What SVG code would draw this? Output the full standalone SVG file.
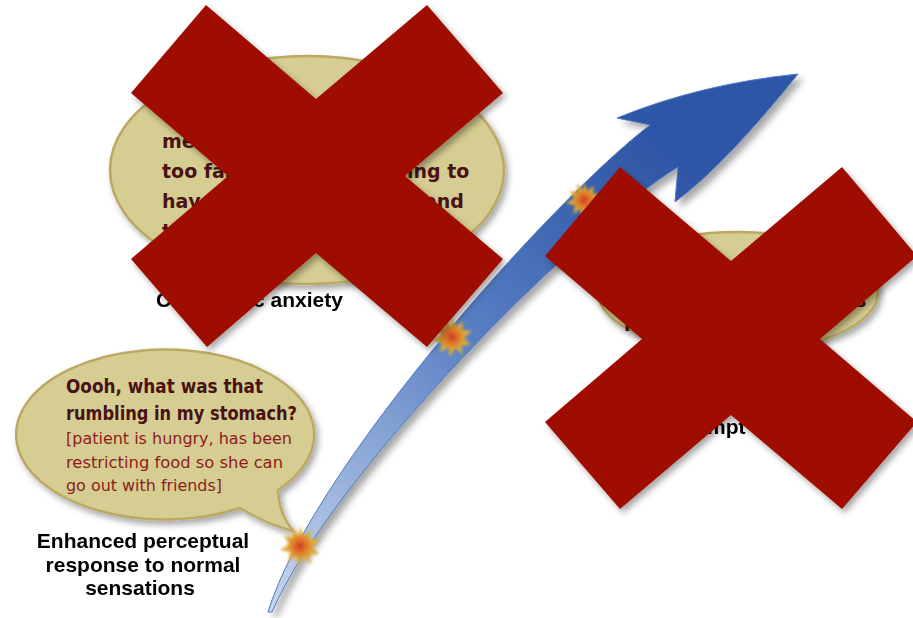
<svg xmlns="http://www.w3.org/2000/svg" width="913" height="618" viewBox="0 0 913 618">
<defs>
<style>
.bubble{fill:#d6cd92;stroke:#bba964;stroke-width:2.5}
.bt{font-family:"DejaVu Sans","Liberation Sans",sans-serif;font-weight:bold;fill:#4a1212;font-size:19px}
.rt{font-family:"DejaVu Sans","Liberation Sans",sans-serif;fill:#8e1c1c;font-size:16px}
.lbl{font-family:"Liberation Sans",Arial,sans-serif;font-weight:bold;fill:#000;font-size:21px}
.xmark{fill:#9e0f02}
</style>
<filter id="sh" x="-10%" y="-10%" width="130%" height="130%">
<feDropShadow dx="3" dy="4" stdDeviation="3" flood-color="#000" flood-opacity="0.35"/>
</filter>
<filter id="ash" x="-10%" y="-10%" width="130%" height="130%">
<feDropShadow dx="5" dy="5" stdDeviation="3.5" flood-color="#000" flood-opacity="0.35"/>
</filter>
<filter id="blur" x="-30%" y="-30%" width="160%" height="160%">
<feGaussianBlur stdDeviation="1.6"/>
</filter>
<linearGradient id="shaft" gradientUnits="userSpaceOnUse" x1="270" y1="612" x2="664" y2="146">
<stop offset="0" stop-color="#c9d7ee"/>
<stop offset="0.3" stop-color="#8eaad8"/>
<stop offset="0.55" stop-color="#5a80c4"/>
<stop offset="0.8" stop-color="#3e66b2"/>
<stop offset="1" stop-color="#2f56a6"/>
</linearGradient>
<radialGradient id="starg">
<stop offset="0" stop-color="#d0342a"/>
<stop offset="0.35" stop-color="#e07a2a"/>
<stop offset="0.7" stop-color="#deb032"/>
<stop offset="1" stop-color="#cda640"/>
</radialGradient>
<polygon id="star" points="0,-20 4,-10 11,-16 10,-7 20,-6 12,1 19,8 9,9 11,18 3,11 -2,20 -4,10 -12,16 -10,6 -20,4 -11,-2 -16,-10 -7,-9 -8,-18 -1,-11" fill="url(#starg)"/>
</defs>

<g id="bubble-top">
<ellipse class="bubble" cx="307" cy="170" rx="197" ry="114" filter="url(#sh)"/>
<text class="bt" x="162" y="148">mea</text>
<text class="bt" x="162" y="178">too fas</text>
<text class="bt" x="407" y="178">ing to</text>
<text class="bt" x="162" y="208">have</text>
<text class="bt" x="424" y="208">and</text>
<text class="bt" x="162" y="238">th</text>
</g>

<g id="bubble-right">
<ellipse class="bubble" cx="738" cy="292" rx="140" ry="60" filter="url(#sh)"/>
<text class="bt" x="855" y="307">s</text>
<text class="bt" x="624" y="331">n</text>
</g>

<g id="bubble-left">
<path class="bubble" filter="url(#sh)" d="M 278 490 A 149 85 0 1 0 240 508 Q 266 524 293 531 Q 279 514 278 490 Z"/>
<text class="bt" x="66" y="393" textLength="197" lengthAdjust="spacingAndGlyphs">Oooh, what was that</text>
<text class="bt" x="66" y="420" textLength="231" lengthAdjust="spacingAndGlyphs">rumbling in my stomach?</text>
<text class="rt" x="66" y="444" textLength="226" lengthAdjust="spacingAndGlyphs">[patient is hungry, has been</text>
<text class="rt" x="66" y="468" textLength="217" lengthAdjust="spacingAndGlyphs">restricting food so she can</text>
<text class="rt" x="66" y="491" textLength="156" lengthAdjust="spacingAndGlyphs">go out with friends]</text>
</g>

<g id="connectors">
<path filter="url(#ash)" fill="url(#shaft)" stroke="#4f78c2" stroke-width="1" d="M 268 612 C 312 468 552 200 650 125 L 617 118 Q 700 84 798 74 Q 725 165 675 202 L 678 167 C 572 232 330 478 272 612 Z"/>
</g>

<g id="stars" filter="url(#blur)">
<use href="#star" transform="translate(300,546)"/>
<use href="#star" transform="translate(452,337)"/>
<use href="#star" transform="translate(584,200) scale(0.9)"/>
</g>

<g id="label-enhanced">
<text class="lbl" x="143" y="548" text-anchor="middle">Enhanced perceptual</text>
<text class="lbl" x="143" y="572" text-anchor="middle">response to normal</text>
<text class="lbl" x="140" y="595" text-anchor="middle">sensations</text>
</g>

<g id="label-anxiety">
<text class="lbl" x="156" y="307">C</text>
<text class="lbl" x="253" y="307">c anxiety</text>
</g>

<g id="label-symptoms">
<text class="lbl" x="707" y="434">mpt</text>
</g>

<g id="x-left" filter="url(#sh)">
<polygon class="xmark" points="206,5 316,99 427,5 503,93 405,176 503,259 427,347 316,253 207,347 131,259 228,176 131,93"/>
</g>

<g id="x-right" filter="url(#sh)">
<polygon class="xmark" points="620,167 731,261 842,167 917,256 820,339 917,422 842,509 731,415 620,509 545,422 642,339 545,256"/>
</g>
</svg>
